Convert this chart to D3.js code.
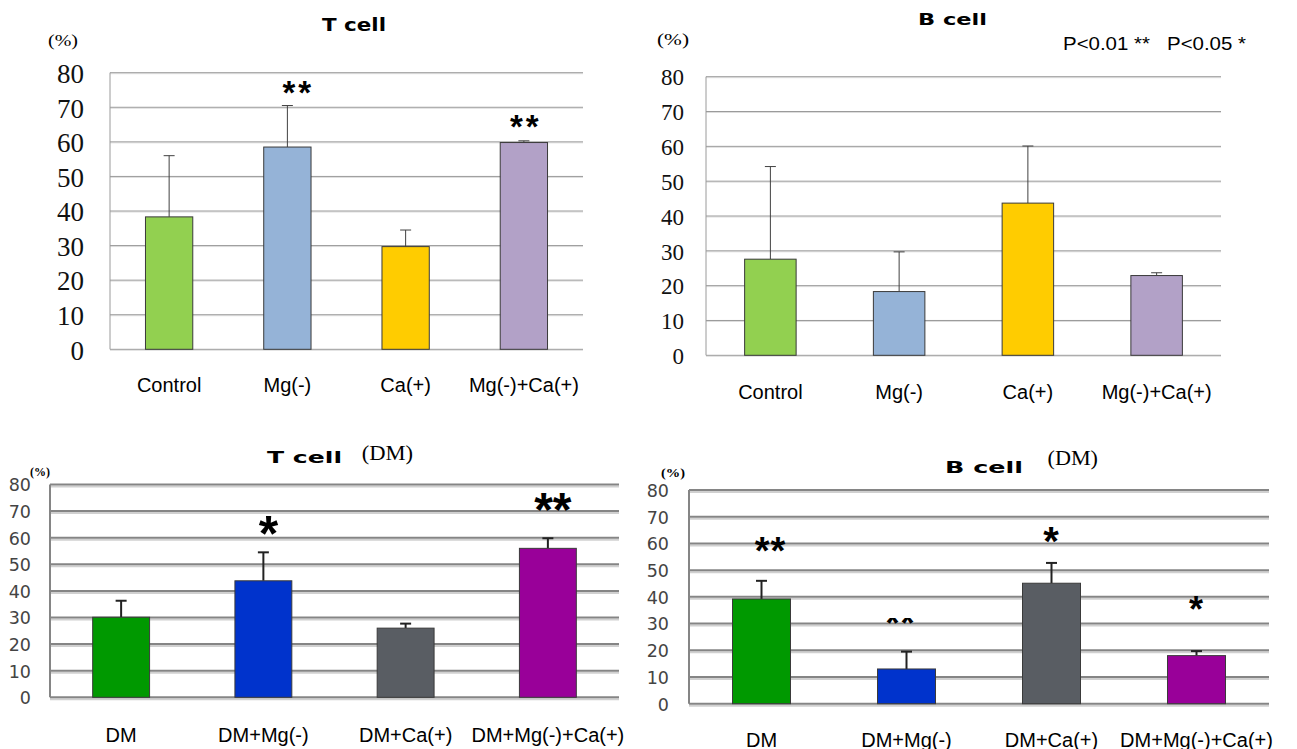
<!DOCTYPE html>
<html>
<head>
<meta charset="utf-8">
<script src="https://cdn.jsdelivr.net/npm/d3@7"></script>
<style>
  body { margin: 0; background: #fff; }
  svg { display: block; }
  .serif-tick text { font-family: "Liberation Serif", "DejaVu Serif", "Times New Roman", serif; }
</style>
</head>
<body>
<svg id="chart" width="1297" height="749"></svg>
<script>
// categories
var catsTop = ["Control", "Mg(-)", "Ca(+)", "Mg(-)+Ca(+)"];
var catsDM = ["DM", "DM+Mg(-)", "DM+Ca(+)", "DM+Mg(-)+Ca(+)"];
var yTicks = [0, 10, 20, 30, 40, 50, 60, 70, 80];

// T cell
var tMean = [38.3, 58.5, 29.7, 59.8];
var tSD = [17.7, 12.0, 4.8, 0.5];
var tSig = ["", "**", "", "**"];
var tSigAt = [0, 75.3, 0, 65.3];

// B cell
var bMean = [27.6, 18.3, 43.7, 22.9];
var bSD = [26.6, 11.4, 16.4, 0.8];

// T cell (DM)
var tdmMean = [30.1, 43.8, 26.0, 56.0];
var tdmSD = [6.2, 10.7, 1.7, 3.8];
var tdmSig = ["", "*", "", "**"];
var tdmSigAt = [0, 63.6, 0, 72.7];

// B cell (DM)
var bdmMean = [39.2, 13.0, 45.1, 18.0];
var bdmSD = [6.8, 6.5, 7.6, 1.7];
var bdmSig = ["**", "**", "*", "*"];
var bdmSigAt = [58.7, 31.4, 62.3, 36.8];

var colorsTop = ["#92d050", "#95b3d7", "#ffcc00", "#b2a1c7"];
var colorsDM = ["#009900", "#0033cc", "#595d63", "#990099"];

var svg = d3.select("#chart");

function drawPanel(cfg) {
  var g = svg.append("g");
  var x = d3.scaleBand().domain(cfg.cats).range([cfg.left, cfg.right])
    .paddingInner(0.6).paddingOuter(0.3);
  var y = d3.scaleLinear().domain([0, 80]).range([cfg.y0, cfg.y80]);

  // gridlines
  g.selectAll(".gs").data(yTicks).enter().append("line")
    .attr("x1", cfg.left).attr("x2", cfg.right)
    .attr("y1", function(d){ return y(d) + cfg.gridW; })
    .attr("y2", function(d){ return y(d) + cfg.gridW; })
    .attr("stroke", cfg.gridShadow).attr("stroke-width", cfg.gridW);
  g.selectAll(".gl").data(yTicks).enter().append("line")
    .attr("x1", cfg.left).attr("x2", cfg.right)
    .attr("y1", function(d){ return y(d); })
    .attr("y2", function(d){ return y(d); })
    .attr("stroke", cfg.gridColor).attr("stroke-width", cfg.gridW);
  g.append("line")
    .attr("x1", cfg.left).attr("x2", cfg.left)
    .attr("y1", y(80)).attr("y2", y(0))
    .attr("stroke", cfg.gridColor).attr("stroke-width", cfg.gridW);

  // error bars (upper only)
  var capW = 11;
  cfg.mean.forEach(function(m, i) {
    var cx = x(cfg.cats[i]) + x.bandwidth() / 2;
    g.append("line")
      .attr("x1", cx).attr("x2", cx)
      .attr("y1", y(m)).attr("y2", y(m + cfg.sd[i]))
      .attr("stroke", cfg.errColor).attr("stroke-width", cfg.errW);
    g.append("line")
      .attr("x1", cx - capW / 2).attr("x2", cx + capW / 2)
      .attr("y1", y(m + cfg.sd[i])).attr("y2", y(m + cfg.sd[i]))
      .attr("stroke", cfg.errColor).attr("stroke-width", cfg.errW);
  });

  // bars
  g.selectAll(".bar").data(cfg.mean).enter().append("rect")
    .attr("x", function(d, i){ return x(cfg.cats[i]); })
    .attr("y", function(d){ return y(d); })
    .attr("width", x.bandwidth())
    .attr("height", function(d){ return y(0) - y(d); })
    .attr("fill", function(d, i){ return cfg.colors[i]; })
    .attr("stroke", "#3a3a3a").attr("stroke-width", 1);

  // y axis
  var ya = g.append("g").attr("transform", "translate(" + cfg.yLabelX + ",0)")
    .call(d3.axisLeft(y).tickValues(yTicks).tickSize(0).tickPadding(0));
  ya.select(".domain").remove();
  ya.attr("font-family", null).attr("font-size", null);
  if (cfg.ySerif) {
    ya.attr("class", "serif-tick");
  } else {
    ya.selectAll("text").style("font-family", "'DejaVu Sans', sans-serif");
  }
  ya.selectAll("text")
    .style("font-size", cfg.yFontSize + "px")
    .attr("fill", cfg.yColor).attr("dy", "0.36em");

  // x axis
  var xa = g.append("g").attr("transform", "translate(0," + cfg.xLabelY + ")")
    .call(d3.axisBottom(x).tickSize(0).tickPadding(0));
  xa.select(".domain").remove();
  xa.attr("font-family", null).attr("font-size", null);
  xa.selectAll("text")
    .style("font-family", "'Liberation Sans', Arial, sans-serif")
    .style("font-size", "20px").attr("fill", "#000").attr("dy", "0.35em");

  // significance marks
  if (cfg.sig) {
    cfg.sig.forEach(function(s, i) {
      if (!s) return;
      var fs = cfg.sigSize[i];
      var t = g.append("text")
        .attr("x", x(cfg.cats[i]) + x.bandwidth() / 2 + cfg.sigDx[i])
        .attr("y", y(cfg.sigAt[i]) + fs * 0.45)
        .attr("text-anchor", "middle")
        .attr("font-family", "'Liberation Sans', Arial, sans-serif")
        .attr("font-weight", "bold")
        .attr("font-size", fs)
        .attr("letter-spacing", cfg.sigSpacing)
        .text(s);
      if (cfg.sigClip && cfg.sigClip.index === i) {
        svg.append("clipPath").attr("id", "sigclip" + i)
          .append("rect").attr("x", 0).attr("y", cfg.sigClip.top)
          .attr("width", 1297).attr("height", 200);
        t.attr("clip-path", "url(#sigclip" + i + ")");
      }
    });
  }

  // title
  g.append("text")
    .attr("x", cfg.title.x).attr("y", cfg.title.y)
    .attr("dy", "0.36em")
    .attr("font-family", "'DejaVu Sans', sans-serif")
    .attr("font-weight", "bold")
    .attr("font-size", cfg.title.size)
    .attr("textLength", cfg.title.w).attr("lengthAdjust", "spacingAndGlyphs")
    .text(cfg.title.text);
  if (cfg.sub) {
    g.append("text")
      .attr("x", cfg.sub.x).attr("y", cfg.sub.y)
      .attr("dy", "0.36em")
      .attr("font-family", "'Liberation Serif', serif")
      .attr("font-size", 21)
      .attr("textLength", cfg.sub.w).attr("lengthAdjust", "spacingAndGlyphs")
      .style("white-space", "pre")
      .text(" (DM)");
  }
  // unit
  g.append("text")
    .attr("x", cfg.unit.x).attr("y", cfg.unit.y)
    .attr("dy", "0.36em")
    .attr("text-anchor", "middle")
    .attr("font-family", "'Liberation Serif', serif")
    .attr("font-weight", cfg.unit.bold ? "bold" : "normal")
    .attr("font-size", cfg.unit.size)
    .attr("textLength", cfg.unit.w).attr("lengthAdjust", "spacingAndGlyphs")
    .text("(%)");
}

// T cell
drawPanel({
  cats: catsTop, mean: tMean, sd: tSD, colors: colorsTop,
  left: 110, right: 583, y0: 349.3, y80: 72.7,
  gridColor: "#9a9a9a", gridShadow: "#dedede", gridW: 1,
  errColor: "#404040", errW: 1,
  yLabelX: 84, ySerif: true, yFontSize: 27, yColor: "#111",
  xLabelY: 385,
  sig: tSig, sigAt: tSigAt, sigSize: [0, 33, 0, 33], sigSpacing: 3,
  sigDx: [0, 11, 0, 2],
  title: { text: "T cell", x: 322, y: 25, size: 17, w: 64 },
  unit: { x: 63, y: 40, size: 17, w: 30 }
});

// B cell
drawPanel({
  cats: catsTop, mean: bMean, sd: bSD, colors: colorsTop,
  left: 706, right: 1221, y0: 355.3, y80: 76.7,
  gridColor: "#9a9a9a", gridShadow: "#dedede", gridW: 1,
  errColor: "#404040", errW: 1,
  yLabelX: 684, ySerif: true, yFontSize: 23, yColor: "#111",
  xLabelY: 392,
  title: { text: "B cell", x: 918, y: 19, size: 16, w: 69 },
  unit: { x: 673, y: 39, size: 17, w: 32 }
});

// T cell (DM)
drawPanel({
  cats: catsDM, mean: tdmMean, sd: tdmSD, colors: colorsDM,
  left: 50, right: 619, y0: 697.3, y80: 484.5,
  gridColor: "#858585", gridShadow: "#d0d0d0", gridW: 2,
  errColor: "#222", errW: 2,
  yLabelX: 31, ySerif: false, yFontSize: 17.5, yColor: "#444",
  xLabelY: 735,
  sig: tdmSig, sigAt: tdmSigAt, sigSize: [0, 50, 0, 48], sigSpacing: 0,
  sigDx: [0, 5, 0, 5],
  title: { text: "T cell", x: 267, y: 457, size: 16, w: 75 },
  sub: { x: 356, y: 452, w: 57 },
  unit: { x: 40, y: 472, size: 12, w: 20, bold: true }
});

// B cell (DM)
drawPanel({
  cats: catsDM, mean: bdmMean, sd: bdmSD, colors: colorsDM,
  left: 689, right: 1269, y0: 703.7, y80: 490,
  gridColor: "#858585", gridShadow: "#d0d0d0", gridW: 2,
  errColor: "#222", errW: 2,
  yLabelX: 669, ySerif: false, yFontSize: 17.5, yColor: "#444",
  xLabelY: 740,
  sig: bdmSig, sigAt: bdmSigAt, sigSize: [38, 36, 40, 36], sigSpacing: 1,
  sigDx: [9, -6, 0, 0],
  sigClip: { index: 1, top: 618 },
  title: { text: "B cell", x: 945, y: 467, size: 16, w: 78 },
  sub: { x: 1042, y: 457, w: 56 },
  unit: { x: 673, y: 473, size: 12, w: 24, bold: true }
});

// legend note
svg.append("text")
  .attr("x", 1063).attr("y", 43).attr("dy", "0.36em")
  .attr("font-family", "'Liberation Sans', Arial, sans-serif")
  .attr("font-size", 19)
  .attr("textLength", 183).attr("lengthAdjust", "spacingAndGlyphs")
  .style("white-space", "pre")
  .text("P<0.01 **   P<0.05 *");
</script>
</body>
</html>
